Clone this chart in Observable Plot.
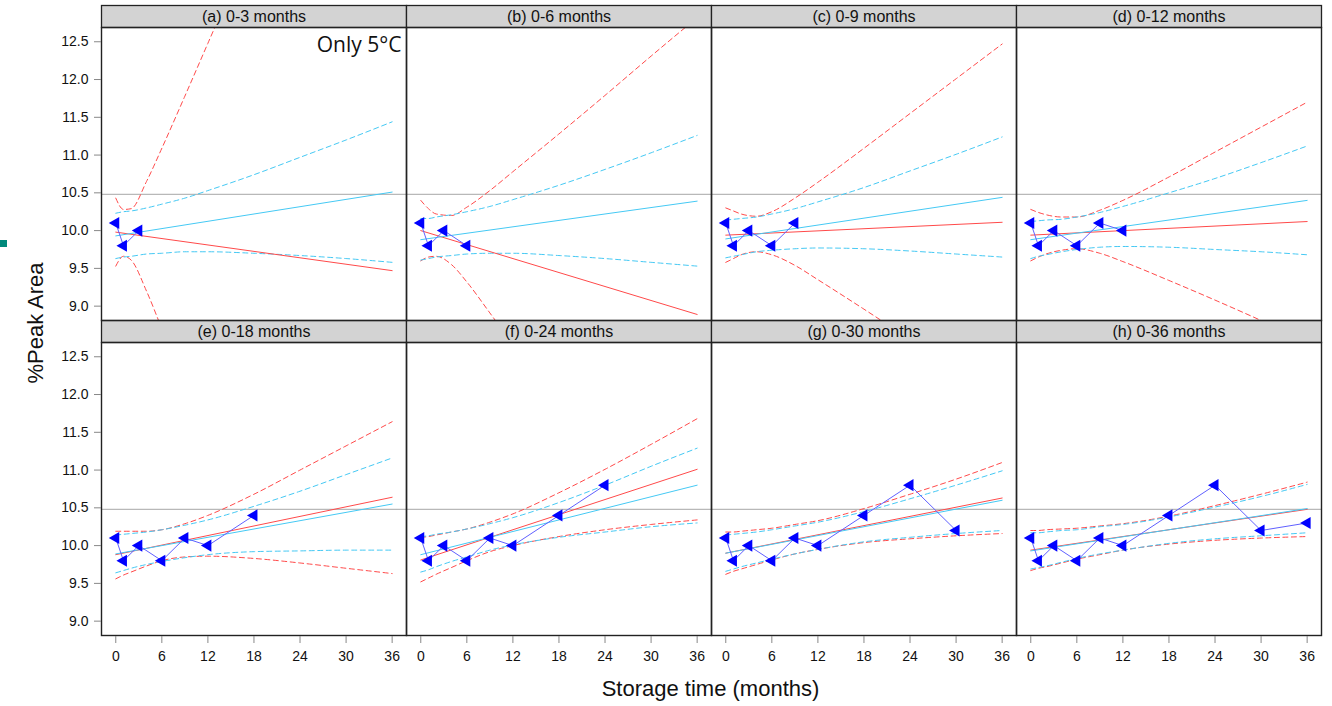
<!DOCTYPE html>
<html>
<head>
<meta charset="utf-8">
<script src="https://cdn.jsdelivr.net/npm/d3@7"></script>
<script src="https://cdn.jsdelivr.net/npm/@observablehq/plot@0.6"></script>
<style>
  body { margin: 0; background: #fff; }
  #chart { position: relative; width: 1332px; height: 706px; }
</style>
</head>
<body>
<div id="chart"></div>
<script>
// Panels: cumulative data windows used for each fit
const panelLabels = ["(a) 0-3 months", "(b) 0-6 months", "(c) 0-9 months", "(d) 0-12 months",
                     "(e) 0-18 months", "(f) 0-24 months", "(g) 0-30 months", "(h) 0-36 months"];
const panelCol = [0, 1, 2, 3, 0, 1, 2, 3];
const panelRow = [0, 0, 0, 0, 1, 1, 1, 1];
const panelLastMonth = [3, 6, 9, 12, 18, 24, 30, 36];

// Observed %Peak Area at 5°C
const months = [0, 1, 3, 6, 9, 12, 18, 24, 30, 36];
const peakArea = [10.1, 9.8, 10.0, 9.8, 10.1, 10.0, 10.4, 10.8, 10.2, 10.3];

// Specification limit
const refLevel = 10.48;

// Fitted lines (value at month 0 and month 36), one pair per panel
const fitMonths = [0, 36];
const blueFit = [[9.93, 10.51], [9.88, 10.39], [9.89, 10.44], [9.88, 10.40],
                 [9.89, 10.55], [9.88, 10.80], [9.90, 10.60], [9.93, 10.49]];
const redFit  = [[9.98, 9.47], [10.00, 8.89], [9.94, 10.11], [9.94, 10.12],
                 [9.88, 10.64], [9.81, 11.01], [9.90, 10.63], [9.94, 10.48]];

// Confidence bands sampled along storage time
const bandMonths = [0, 1, 2, 4, 6, 9, 12, 18, 24, 30, 36];
const blueUpper = [
  [10.23, 10.25, 10.26, 10.30, 10.35, 10.43, 10.53, 10.74, 10.97, 11.20, 11.44],
  [10.16, 10.16, 10.18, 10.21, 10.25, 10.32, 10.41, 10.60, 10.81, 11.03, 11.26],
  [10.14, 10.15, 10.16, 10.18, 10.22, 10.29, 10.38, 10.57, 10.79, 11.01, 11.24],
  [10.12, 10.13, 10.14, 10.15, 10.18, 10.24, 10.32, 10.50, 10.69, 10.90, 11.12],
  [10.14, 10.15, 10.16, 10.18, 10.21, 10.27, 10.34, 10.52, 10.72, 10.94, 11.16],
  [10.12, 10.13, 10.15, 10.18, 10.22, 10.29, 10.37, 10.57, 10.80, 11.05, 11.29],
  [10.14, 10.15, 10.16, 10.18, 10.21, 10.26, 10.31, 10.45, 10.62, 10.80, 10.99],
  [10.17, 10.17, 10.18, 10.20, 10.21, 10.25, 10.28, 10.38, 10.51, 10.65, 10.81]
];
const blueLower = [
  [9.63, 9.65, 9.66, 9.69, 9.70, 9.72, 9.72, 9.70, 9.67, 9.63, 9.58],
  [9.61, 9.63, 9.65, 9.67, 9.69, 9.70, 9.70, 9.67, 9.63, 9.58, 9.53],
  [9.64, 9.66, 9.68, 9.72, 9.74, 9.76, 9.77, 9.76, 9.73, 9.69, 9.65],
  [9.63, 9.66, 9.68, 9.72, 9.75, 9.78, 9.79, 9.78, 9.75, 9.72, 9.68],
  [9.64, 9.67, 9.70, 9.75, 9.79, 9.84, 9.88, 9.92, 9.93, 9.94, 9.94],
  [9.65, 9.68, 9.72, 9.79, 9.85, 9.94, 10.01, 10.11, 10.18, 10.25, 10.30],
  [9.66, 9.69, 9.72, 9.77, 9.82, 9.89, 9.95, 10.05, 10.11, 10.16, 10.20],
  [9.69, 9.71, 9.73, 9.78, 9.83, 9.89, 9.94, 10.03, 10.09, 10.13, 10.17]
];
const redUpper = [
  [10.43, 10.28, 10.29, 10.65, 11.09, 11.78, 12.48, 13.88, 15.28, 16.68, 18.09],
  [10.40, 10.29, 10.22, 10.20, 10.31, 10.53, 10.78, 11.28, 11.79, 12.31, 12.82],
  [10.30, 10.26, 10.22, 10.19, 10.25, 10.43, 10.64, 11.09, 11.55, 12.01, 12.47],
  [10.28, 10.24, 10.21, 10.18, 10.18, 10.27, 10.40, 10.71, 11.04, 11.37, 11.70],
  [10.19, 10.19, 10.19, 10.19, 10.21, 10.29, 10.40, 10.68, 11.00, 11.32, 11.64],
  [10.11, 10.12, 10.14, 10.18, 10.22, 10.31, 10.42, 10.70, 11.01, 11.34, 11.68],
  [10.18, 10.18, 10.19, 10.21, 10.23, 10.28, 10.33, 10.49, 10.68, 10.88, 11.10],
  [10.20, 10.20, 10.21, 10.22, 10.23, 10.26, 10.29, 10.39, 10.53, 10.68, 10.84]
];
const redLower = [
  [9.53, 9.66, 9.61, 9.20, 8.70, 7.92, 7.14, 5.57, 4.00, 2.43, 0.85],
  [9.60, 9.65, 9.66, 9.55, 9.32, 8.91, 8.49, 7.61, 6.73, 5.84, 4.96],
  [9.58, 9.63, 9.68, 9.72, 9.68, 9.54, 9.35, 8.96, 8.56, 8.16, 7.75],
  [9.60, 9.65, 9.69, 9.74, 9.76, 9.70, 9.59, 9.34, 9.08, 8.81, 8.53],
  [9.56, 9.61, 9.65, 9.73, 9.80, 9.85, 9.86, 9.83, 9.77, 9.70, 9.63],
  [9.52, 9.57, 9.62, 9.71, 9.80, 9.92, 10.00, 10.12, 10.21, 10.28, 10.34],
  [9.62, 9.66, 9.69, 9.75, 9.81, 9.89, 9.95, 10.04, 10.09, 10.13, 10.16],
  [9.67, 9.70, 9.72, 9.77, 9.82, 9.88, 9.94, 10.02, 10.07, 10.10, 10.12]
];

// Axis ticks
const xTicks = [0, 6, 12, 18, 24, 30, 36];
const yTicks = [9.0, 9.5, 10.0, 10.5, 11.0, 11.5, 12.0, 12.5];

const annotation = "Only 5°C";

// ---- tables for the marks ----
const panels = panelLabels.map((label, i) => ({label, col: panelCol[i], row: panelRow[i]}));

const obs = [];
panels.forEach((p, i) => {
  months.forEach((m, j) => {
    if (m <= panelLastMonth[i]) obs.push({col: p.col, row: p.row, t: m, v: peakArea[j]});
  });
});

function curveRows(valuesByPanel, times, name) {
  const rows = [];
  panels.forEach((p, i) => {
    times.forEach((t, j) => rows.push({col: p.col, row: p.row, key: name + i, t, v: valuesByPanel[i][j]}));
  });
  return rows;
}
const blueFitRows = curveRows(blueFit, fitMonths, "bf");
const redFitRows = curveRows(redFit, fitMonths, "rf");
const blueBandRows = [...curveRows(blueUpper, bandMonths, "bu"), ...curveRows(blueLower, bandMonths, "bl")];
const redBandRows = [...curveRows(redUpper, bandMonths, "ru"), ...curveRows(redLower, bandMonths, "rl")];

const RED = "#ff4a4a";
const CYAN = "#45c9f4";
const STRIP_H = 22;
const FACET_H = 315;

const facet = {fx: "col", fy: "row"};
const dash = "5,3.5";

const svg = Plot.plot({
  width: 1332,
  height: 706,
  marginLeft: 99,
  marginRight: 10,
  marginTop: 5,
  marginBottom: 71,
  style: {fontFamily: "'Liberation Sans', Arial, sans-serif", fontSize: "14px", color: "#111", background: "#fff", overflow: "visible"},
  x: {domain: [-1.86, 37.87]},
  y: {domain: [8.81, 12.98]},
  fx: {domain: [0, 1, 2, 3], padding: 0, axis: null},
  fy: {domain: [0, 1], padding: 0, axis: null},
  marks: [
    Plot.ruleY([refLevel], {stroke: "#b8b8b8", strokeWidth: 1.3}),
    Plot.line(redBandRows, {...facet, x: "t", y: "v", z: "key", stroke: RED, strokeWidth: 1, strokeDasharray: dash, curve: "monotone-x", clip: true}),
    Plot.line(blueBandRows, {...facet, x: "t", y: "v", z: "key", stroke: CYAN, strokeWidth: 1, strokeDasharray: dash, curve: "monotone-x", clip: true}),
    Plot.line(redFitRows, {...facet, x: "t", y: "v", z: "key", stroke: RED, strokeWidth: 1, clip: true}),
    Plot.line(blueFitRows, {...facet, x: "t", y: "v", z: "key", stroke: CYAN, strokeWidth: 1, clip: true}),
    Plot.line(obs, {...facet, x: "t", y: "v", stroke: "#6060ff", strokeWidth: 1}),
    Plot.dot(obs, {...facet, x: "t", y: "v", symbol: "triangle", rotate: -90, r: 4.5, fill: "#0000ff", stroke: "none"}),
    // strip header above each panel
    Plot.frame({fill: "#d3d3d3", stroke: "#222", strokeWidth: 1.3, insetBottom: FACET_H - STRIP_H}),
    Plot.frame({stroke: "#222", strokeWidth: 1.4, insetTop: STRIP_H}),
    Plot.text(panels, {...facet, text: "label", frameAnchor: "top", dy: STRIP_H / 2, lineAnchor: "middle", fontSize: 16, fill: "#111"}),
    Plot.text([{col: 0, row: 0, text: annotation}], {...facet, text: "text", frameAnchor: "top-right", textAnchor: "end", dx: -5, dy: 40, lineAnchor: "middle", fontSize: 21, fontFamily: "'Open Sans', sans-serif", fill: "#111"}),
    Plot.axisY({ticks: yTicks, tickFormat: d3.format(".1f"), tickSize: 7, tickPadding: 6, stroke: "#888", fill: "#111", label: null, fontSize: 14}),
    Plot.axisX({ticks: xTicks, tickSize: 7, tickPadding: 8, dy: 1, stroke: "#888", fill: "#111", label: null, fontSize: 14})
  ]
});

const root = d3.select("#chart");
root.node().appendChild(svg);

const s = d3.select(svg);
// axis titles
s.append("text")
  .attr("transform", "translate(42.7,323) rotate(-90)")
  .attr("text-anchor", "middle")
  .style("font", "22px 'Liberation Sans', Arial, sans-serif")
  .attr("fill", "#111")
  .text("%Peak Area");
s.append("text")
  .attr("x", 710.5).attr("y", 695.5)
  .attr("text-anchor", "middle")
  .style("font", "22px 'Liberation Sans', Arial, sans-serif")
  .attr("fill", "#111")
  .text("Storage time (months)");
// small marker at the left edge
s.append("rect").attr("x", 0).attr("y", 240).attr("width", 7).attr("height", 7).attr("fill", "#00897b");
</script>
</body>
</html>
